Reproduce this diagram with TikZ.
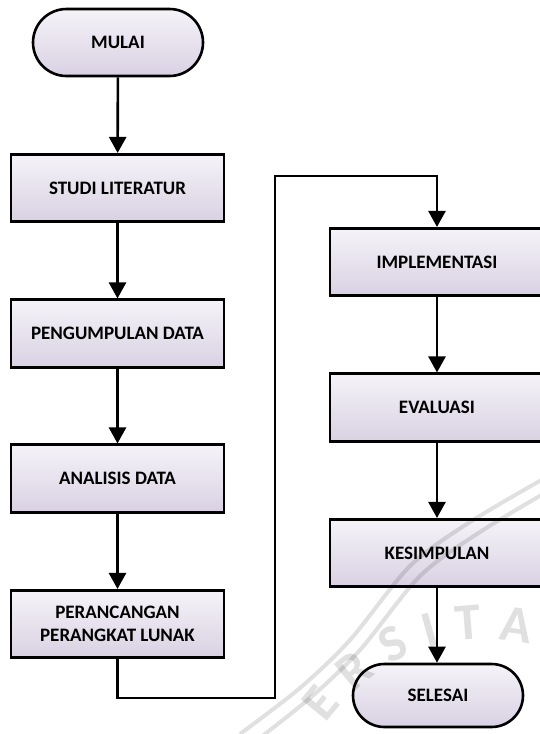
\documentclass[tikz,border=0pt]{standalone}
\usepackage{fontspec}
\setmainfont{Carlito}
\usetikzlibrary{arrows.meta,shapes.misc,decorations.text}

\definecolor{boxtop}{HTML}{F5F3F8}
\definecolor{boxbottom}{HTML}{D9D1E3}
\definecolor{wmark}{HTML}{E0E0E0}

\newcommand{\wmfont}{\fontsize{52}{52}\selectfont\bfseries}

\tikzset{
  x=1pt, y=1pt,
  base/.style={draw=black, line width=2.6pt, top color=boxtop, bottom color=boxbottom,
    font=\fontsize{19}{23.5}\selectfont\bfseries, align=center, inner sep=0pt},
  process/.style={base, rectangle, minimum width=213pt, minimum height=67.5pt},
  terminal/.style={base, rounded rectangle, minimum width=170pt, minimum height=67pt},
  flow/.style={line width=2.6pt, -{Triangle[length=16pt,width=17pt]}},
  wmline/.style={wmark, line width=4pt}
}

\begin{document}
\begin{tikzpicture}
\useasboundingbox (0,0) rectangle (539,-734);

% left column
\node[terminal] (mulai) at (118,-42.5) {MULAI};
\node[process] (studi) at (117.5,-188) {STUDI LITERATUR};
\node[process] (kumpul) at (117.5,-333.5) {PENGUMPULAN DATA};
\node[process] (analisis) at (117.5,-478.5) {ANALISIS DATA};
\node[process] (rancang) at (117.5,-624) {PERANCANGAN\\PERANGKAT LUNAK};

% right column
\node[process, minimum width=214pt] (impl) at (437,-262) {IMPLEMENTASI};
\node[process, minimum width=214pt] (eval) at (437,-407.5) {EVALUASI};
\node[process, minimum width=214pt] (simpul) at (437,-553) {KESIMPULAN};
\node[terminal, minimum height=63pt] (selesai) at (438,-695.5) {SELESAI};

% bends of the link between the columns
\coordinate (low) at (275,-698);
\coordinate (high) at (275,-176);

\draw[flow] (mulai) -- (studi);
\draw[flow] (studi) -- (kumpul);
\draw[flow] (kumpul) -- (analisis);
\draw[flow] (analisis) -- (rancang);
\draw[flow] (rancang.south) |- (low) -- (high) -| (impl.north);
\draw[flow] (impl) -- (eval);
\draw[flow] (eval) -- (simpul);
\draw[flow] (simpul.south) -- (simpul.south |- selesai.north);

% faint stamp laid over the chart (multiply keeps black lines black)
\begin{scope}[blend mode=multiply]
\draw[wmline] plot[smooth] coordinates {(240,-734) (300,-688) (350,-640) (410,-566) (470,-522) (545,-478)};
\draw[wmline] plot[smooth] coordinates {(252,-744) (310,-698) (360,-650) (420,-576) (480,-532) (550,-490)};
\path[decorate,
    decoration={text along path, text color=wmark,
      text={|\wmfont|E R S I T A}, text align={fit to path stretching spaces}}]
  (326,-724) .. controls (370,-664) and (440,-625) .. (530,-644);
\end{scope}
\end{tikzpicture}
\end{document}
